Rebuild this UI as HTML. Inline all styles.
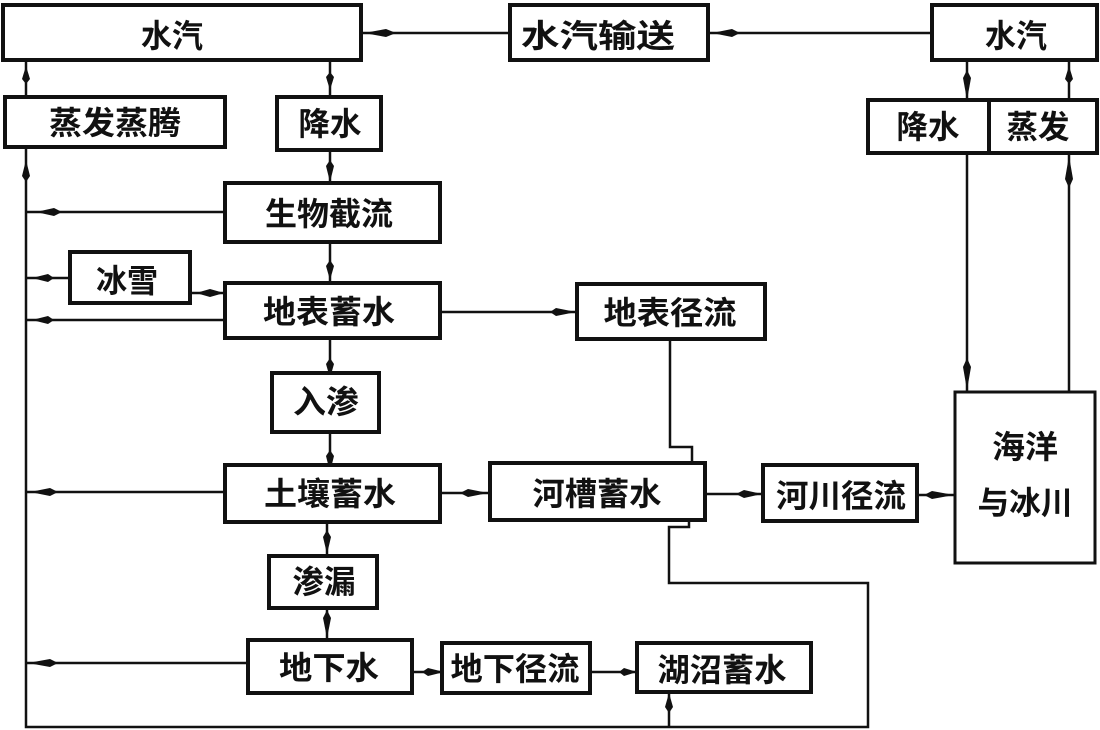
<!DOCTYPE html>
<html><head><meta charset="utf-8"><style>
html,body{margin:0;padding:0;background:#fff;}
svg{display:block;}
text{font-family:"Liberation Sans","Noto Sans CJK SC","WenQuanYi Zen Hei",sans-serif;font-weight:700;font-size:32px;fill:#111;}
</style></head><body>
<svg width="1100" height="730" viewBox="0 0 1100 730" xmlns="http://www.w3.org/2000/svg">
<g fill="none" stroke="#111" stroke-width="2.5">
  <line x1="361" y1="33" x2="510" y2="33"/>
  <line x1="708" y1="33" x2="932" y2="33"/>
  <line x1="26" y1="60" x2="26" y2="97"/>
  <line x1="330" y1="60" x2="330" y2="97"/>
  <line x1="330" y1="150" x2="330" y2="183"/>
  <line x1="330" y1="242" x2="330" y2="283"/>
  <line x1="330" y1="338" x2="330" y2="373"/>
  <line x1="330" y1="432" x2="330" y2="465"/>
  <line x1="327" y1="522" x2="327" y2="556"/>
  <line x1="327" y1="608" x2="327" y2="640"/>
  <polyline points="26,147 26,727 868,727 868,583 669,583 669,527 689,527 689,520"/>
  <line x1="669" y1="727" x2="669" y2="693"/>
  <line x1="225" y1="212" x2="26" y2="212"/>
  <line x1="70" y1="278" x2="26" y2="278"/>
  <line x1="190" y1="293" x2="225" y2="293"/>
  <line x1="225" y1="320" x2="26" y2="320"/>
  <line x1="225" y1="492" x2="26" y2="492"/>
  <line x1="248" y1="663" x2="26" y2="663"/>
  <line x1="440" y1="312" x2="577" y2="312"/>
  <polyline points="670,339 670,447 692,447 692,463"/>
  <line x1="441" y1="493" x2="490" y2="493"/>
  <line x1="705" y1="494" x2="763" y2="494"/>
  <line x1="917" y1="495" x2="955" y2="495"/>
  <line x1="412" y1="672" x2="442" y2="672"/>
  <line x1="590" y1="672" x2="637" y2="672"/>
  <line x1="967" y1="60" x2="967" y2="100"/>
  <line x1="1069" y1="60" x2="1069" y2="100"/>
  <line x1="967" y1="153" x2="967" y2="392"/>
  <line x1="1069" y1="153" x2="1069" y2="392"/>
</g>

<g fill="#111" stroke="none">
  <polygon points="364,33 386,29 396,33 386,37"/>
  <polygon points="712,33 732,29 740,33 732,37"/>
  <polygon points="36,212 54,208 62,212 54,216"/>
  <polygon points="32,278 48,274 54,278 48,282"/>
  <polygon points="32,320 48,316 54,320 48,324"/>
  <polygon points="30,492 50,488 58,492 50,496"/>
  <polygon points="28,663 50,659 58,663 50,667"/>
  <polygon points="576,312 556,308 550,312 556,316"/>
  <polygon points="488,493 468,489 460,493 468,497"/>
  <polygon points="762,494 744,490 736,494 744,498"/>
  <polygon points="954,495 932,491 924,495 932,499"/>
  <polygon points="444,672 428,668 422,672 428,676"/>
  <polygon points="637,672 624,668 619,672 624,676"/>
  <polygon points="196,293 210,289 224,293 210,297"/>
  <polygon points="330,90 326,77 330,72 334,77"/>
  <polygon points="330,182 326,166 330,160 334,166"/>
  <polygon points="330,280 326,266 330,260 334,266"/>
  <polygon points="330,378 326,364 330,358 334,364"/>
  <polygon points="330,472 326,456 330,450 334,456"/>
  <polygon points="327,554 323,537 327,530 331,537"/>
  <polygon points="327,638 323,618 327,610 331,618"/>
  <polygon points="967,390 963,367 967,358 971,367"/>
  <polygon points="967,100 963,78 967,70 971,78"/>
  <polygon points="26,66 22,79 26,84 30,79"/>
  <polygon points="26,160 22,176 26,182 30,176"/>
  <polygon points="1069,156 1065,179 1069,188 1073,179"/>
  <polygon points="1069,66 1065,79 1069,84 1073,79"/>
  <polygon points="669,693 665,707 669,713 673,707"/>
</g>

<g fill="#fff" stroke="#111" stroke-width="4">
  <rect x="3" y="5" width="358" height="55"/>
  <rect x="510" y="5" width="198" height="55"/>
  <rect x="932" y="5" width="165" height="55"/>
  <rect x="5" y="97" width="220" height="50"/>
  <rect x="277" y="97" width="104" height="53"/>
  <rect x="868" y="100" width="229" height="53"/>
  <line x1="989" y1="100" x2="989" y2="153"/>
  <rect x="225" y="183" width="215" height="59"/>
  <rect x="70" y="252" width="120" height="51"/>
  <rect x="225" y="283" width="215" height="55"/>
  <rect x="577" y="284" width="188" height="55"/>
  <rect x="272" y="373" width="107" height="59"/>
  <rect x="225" y="465" width="215" height="57"/>
  <rect x="490" y="463" width="215" height="57"/>
  <rect x="763" y="465" width="154" height="56"/>
  <rect x="955" y="392" width="140" height="171" stroke-width="3"/>
  <rect x="269" y="556" width="108" height="52"/>
  <rect x="248" y="640" width="164" height="53"/>
  <rect x="442" y="643" width="148" height="50"/>
  <rect x="637" y="643" width="174" height="49"/>
</g>

<g text-anchor="middle">
  <text x="172" y="47" textLength="62" lengthAdjust="spacingAndGlyphs">水汽</text>
  <text x="598" y="47" textLength="154" lengthAdjust="spacingAndGlyphs">水汽输送</text>
  <text x="1016" y="47" textLength="62" lengthAdjust="spacingAndGlyphs">水汽</text>
  <text x="115" y="134" textLength="132" lengthAdjust="spacingAndGlyphs">蒸发蒸腾</text>
  <text x="330" y="135" textLength="63" lengthAdjust="spacingAndGlyphs">降水</text>
  <text x="928" y="138" textLength="63" lengthAdjust="spacingAndGlyphs">降水</text>
  <text x="1038" y="138" textLength="63" lengthAdjust="spacingAndGlyphs">蒸发</text>
  <text x="329" y="225" textLength="128" lengthAdjust="spacingAndGlyphs">生物截流</text>
  <text x="127" y="292" textLength="62" lengthAdjust="spacingAndGlyphs">冰雪</text>
  <text x="329" y="323" textLength="132" lengthAdjust="spacingAndGlyphs">地表蓄水</text>
  <text x="670" y="324" textLength="133" lengthAdjust="spacingAndGlyphs">地表径流</text>
  <text x="326" y="413" textLength="66" lengthAdjust="spacingAndGlyphs">入渗</text>
  <text x="330" y="505" textLength="132" lengthAdjust="spacingAndGlyphs">土壤蓄水</text>
  <text x="597" y="505" textLength="129" lengthAdjust="spacingAndGlyphs">河槽蓄水</text>
  <text x="841" y="507" textLength="130" lengthAdjust="spacingAndGlyphs">河川径流</text>
  <text x="1025" y="458" textLength="66" lengthAdjust="spacingAndGlyphs">海洋</text>
  <text x="1025" y="514" textLength="95" lengthAdjust="spacingAndGlyphs">与冰川</text>
  <text x="324" y="593" textLength="63" lengthAdjust="spacingAndGlyphs">渗漏</text>
  <text x="329" y="679" textLength="100" lengthAdjust="spacingAndGlyphs">地下水</text>
  <text x="515" y="680" textLength="129" lengthAdjust="spacingAndGlyphs">地下径流</text>
  <text x="722" y="681" textLength="129" lengthAdjust="spacingAndGlyphs">湖沼蓄水</text>
</g>
</svg>
</body></html>
